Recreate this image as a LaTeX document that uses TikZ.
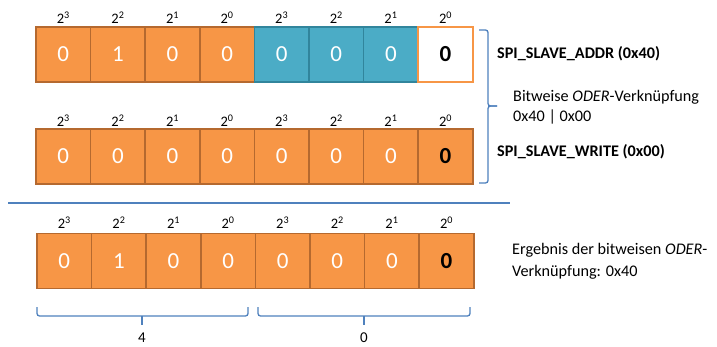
\documentclass[tikz,border=0pt]{standalone}
\usepackage{fontspec}
\setmainfont{Carlito}
\definecolor{orfill}{HTML}{F79646}
\definecolor{ordraw}{HTML}{B5692F}
\definecolor{blfill}{HTML}{4BACC6}
\definecolor{bldraw}{HTML}{31859C}
\definecolor{linecol}{HTML}{4F81BD}
\tikzset{
  cell/.style={minimum width=54.6pt,minimum height=55pt,inner sep=0pt,line width=1.6pt,
    font=\fontsize{23}{23}\selectfont,text=white},
  orcell/.style={cell,fill=orfill,draw=ordraw},
  blcell/.style={cell,fill=blfill,draw=bldraw},
  whcell/.style={cell,fill=white,draw=orfill,text=black,font=\fontsize{23}{23}\selectfont\bfseries},
  lastcell/.style={orcell,text=black,font=\fontsize{23}{23}\selectfont\bfseries},
  expo/.style={inner sep=0pt,font=\fontsize{14.5}{14.5}\selectfont},
  note/.style={anchor=west,inner sep=0pt,font=\fontsize{16.2}{19}\selectfont},
  boldnote/.style={note,font=\fontsize{16.2}{19}\selectfont\bfseries},
  bracket/.style={draw=linecol,line width=1.3pt,rounded corners=2.5pt},
}
\begin{document}
\begin{tikzpicture}[x=1pt,y=-1pt]
\useasboundingbox (0,0) rectangle (717,347);

% first operand: SPI_SLAVE_ADDR
\foreach \v/\s [count=\i] in {0/orcell,1/orcell,0/orcell,0/orcell,0/blcell,0/blcell,0/blcell}
  \node[\s] (a\i) at ({36+54.6*(\i-0.5)},54.5) {\v};
\node[whcell] (a8) at ({36+54.6*7.5},54.5) {0};

% second operand: SPI_SLAVE_WRITE
\foreach \i in {1,...,7}
  \node[orcell] (b\i) at ({36+54.6*(\i-0.5)},156.5) {0};
\node[lastcell] (b8) at ({36+54.6*7.5},156.5) {0};

% result
\foreach \v [count=\i] in {0,1,0,0,0,0,0}
  \node[orcell] (c\i) at ({37+54.6*(\i-0.5)},261) {\v};
\node[lastcell] (c8) at ({37+54.6*7.5},261) {0};

% place values above every cell
\foreach \e [count=\i] in {3,2,1,0,3,2,1,0} {
  \node[expo] (ea\i) at ({36+54.6*(\i-0.5)},18) {2\textsuperscript{\e}};
  \node[expo] (eb\i) at ({36+54.6*(\i-0.5)},121) {2\textsuperscript{\e}};
  \node[expo] (ec\i) at ({37+54.6*(\i-0.5)},223) {2\textsuperscript{\e}};
}

% bracket joining both operands
\draw[bracket] (479,30) -- (488,30) -- (488,106) -- (497,106);
\draw[bracket] (497,106) -- (488,106) -- (488,183) -- (479,183);

\node[boldnote] (addr) at (497,54) {SPI\_SLAVE\_ADDR (0x40)};
\node[note] (op1) at (513,97) {Bitweise \textit{ODER}-Verknüpfung};
\node[note] (op2) at (513,117) {0x40 | 0x00};
\node[boldnote] (wr) at (497,152) {SPI\_SLAVE\_WRITE (0x00)};

% separator
\draw[linecol,line width=1.5pt] (8,203) -- (510,203);

\node[note] (res1) at (512,250) {Ergebnis der bitweisen \textit{ODER}-};
\node[note] (res2) at (512,272) {Verknüpfung: 0x40};

% nibble brackets
\draw[bracket] (37,307) -- (37,316) -- (248,316) -- (248,307);
\draw[bracket] (142,316) -- (142,325);
\draw[bracket] (258,307) -- (258,316) -- (470,316) -- (470,307);
\draw[bracket] (364,316) -- (364,325);
\node[expo,font=\fontsize{15}{15}\selectfont] (hi) at (142,338) {4};
\node[expo,font=\fontsize{15}{15}\selectfont] (lo) at (364,338) {0};
\end{tikzpicture}
\end{document}
